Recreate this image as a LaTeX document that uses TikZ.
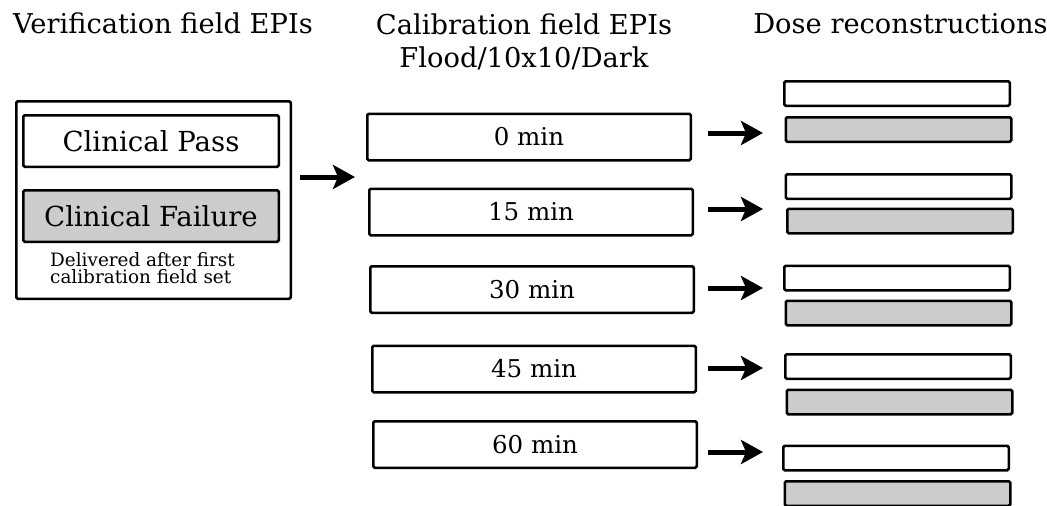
\documentclass[tikz,border=0pt]{standalone}
\usepackage{fontspec}
\setmainfont{DejaVu Serif}
\usepackage{tikz}
\usetikzlibrary{arrows.meta}
\definecolor{failgray}{gray}{0.8}

\begin{document}
\begin{tikzpicture}[x = 1pt, y = -1pt,
  box/.style = {draw, line width = 2.5pt, rounded corners = 1.5pt, fill = white, inner sep = 0pt},
  calbox/.style = {box, minimum width = 323.5pt, minimum height = 46.5pt, font = \fontsize{24.5}{28}\selectfont},
  bar/.style = {box, minimum width = 225.5pt, minimum height = 24.5pt},
  failbar/.style = {bar, fill = failgray},
  bigarrow/.style = {-{Stealth[length = 22pt, width = 24pt, inset = 5pt]}, line width = 5pt},
  title/.style = {font = \fontsize{27.3}{33}\selectfont, inner sep = 0pt}]
  \clip (0, 0) rectangle (1047, 506);
  % column titles
  \node[title, anchor = base] (vtitle) at (163, 34) {Verification field EPIs};
  \node[title, anchor = north, align = center] (ctitle) at (524, 13.5) {Calibration field EPIs\\Flood/10x10/Dark};
  \node[title, anchor = base] (dtitle) at (900.5, 34) {Dose reconstructions};
  % verification field EPIs
  \node[box, minimum width = 274.5pt, minimum height = 197.5pt] at (153.5, 200) (verif) {};
  \node[box, minimum width = 255.5pt, minimum height = 51.5pt, font = \fontsize{27.6}{33}\selectfont] at (151, 141) (pass) {Clinical Pass};
  \node[box, fill = failgray, minimum width = 255.5pt, minimum height = 51.5pt, font = \fontsize{27.6}{33}\selectfont] at (151, 216) (fail) {Clinical Failure};
  \node[anchor = north west, align = left, inner sep = 0pt, font = \fontsize{18.4}{17.8}\selectfont] at (50, 252) (note) {Delivered after first\\calibration field set};
  \coordinate (vout) at (300, 177);
  \coordinate (cin) at (355, 177);
  \draw[bigarrow] (vout) -- (cin);
  % calibration field EPIs
  \node[calbox] at (529, 137) (cal0) {0 min};
  \node[calbox] at (531, 212) (cal15) {15 min};
  \node[calbox] at (532, 289.5) (cal30) {30 min};
  \node[calbox] at (534, 369) (cal45) {45 min};
  \node[calbox] at (535, 444.5) (cal60) {60 min};
  % dose reconstructions
  \foreach \n/\x/\wy/\gy/\ay in {0/897/93.5/129.5/133, 15/898.5/186.5/221/209, 30/897/278/313/288, 45/898/366.5/402/368, 60/896/458/493.5/452}
  {
  \node[bar] at (\x, \wy) (pass\n) {};
  \node[failbar] at (\x + 1.5, \gy) (fail\n) {};
  \coordinate (s\n) at (708, \ay);
  \coordinate (e\n) at (763, \ay);
  \draw[bigarrow] (s\n) -- (e\n);
  }
\end{tikzpicture}
\end{document}
